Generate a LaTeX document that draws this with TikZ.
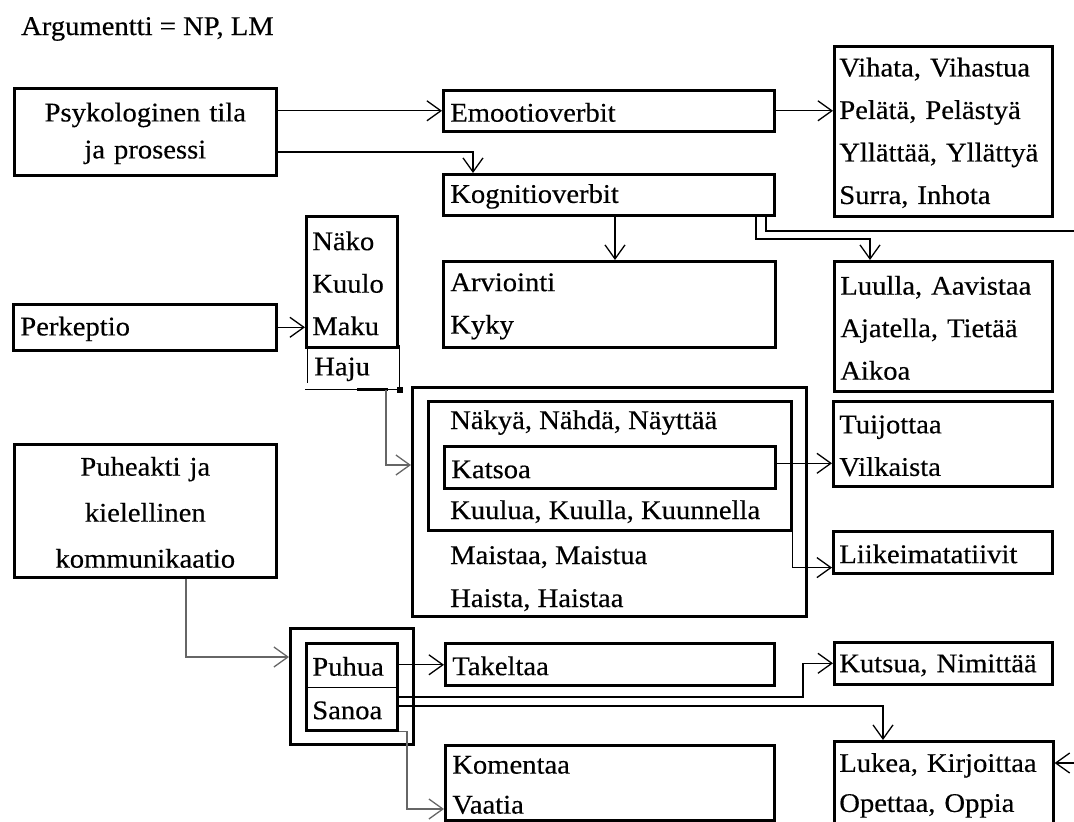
\documentclass[tikz,border=0pt]{standalone}
\usepackage{fontspec}
\setmainfont{Liberation Serif}[FakeStretch=1.06,FakeBold=0.4]
\usepackage{tikz}
\usetikzlibrary{arrows.meta,positioning}

\begin{document}
\begin{tikzpicture}[x=1pt,y=-1pt,
    font=\fontsize{27}{42.5}\selectfont,
    box/.style={draw,line width=2.6pt,anchor=north west,inner sep=0pt,
        align=left,text height=22pt},
    arr/.style={line width=1.3pt,-{Straight Barb[length=14pt,width=20pt]}},
    ln/.style={line width=1.3pt},
    gry/.style={draw=black!60}]
\useasboundingbox (0,0) rectangle (1074,822);
\clip (0,0) rectangle (1074,822);
\node[anchor=base west,inner sep=0pt] (arg) at (21,35) {Argumentti = NP, LM};
% Psykologinen tila
\node[box,align=center,font=\fontsize{27}{37}\selectfont,
    minimum width=262,minimum height=87,text width=250pt] (psy) at (13,87)
    {Psykologinen tila\\ja prosessi};
\node[box,minimum width=331,minimum height=41,text width=317pt] (emo) at (442,89) {Emootioverbit};
\node[box,minimum width=331,minimum height=41,text width=317pt] (kog) at (442,173) {Kognitioverbit};
\node[box,minimum width=218,minimum height=170,text width=208pt] (viha) at (833,45)
    {Vihata, Vihastua\\Pelätä, Pelästyä\\Yllättää, Yllättyä\\Surra, Inhota};
\node[box,minimum width=332,minimum height=86,text width=318pt] (arvio) at (442,260)
    {Arviointi\\Kyky};
\node[box,minimum width=218,minimum height=130,text width=206pt] (luulla) at (833,260)
    {Luulla, Aavistaa\\Ajatella, Tietää\\Aikoa};
% Perkeptio
\node[box,minimum width=263,minimum height=46,text width=249pt] (perk) at (12,303) {Perkeptio};
\node[box,minimum width=91,minimum height=131,text width=79pt] (nako) at (305,215)
    {Näko\\Kuulo\\Maku};
\node[box,draw=none,minimum width=90,minimum height=42,text width=78pt] (haju) at (307,345) {Haju};
\draw[line width=1pt] (haju.north west) ++(0,2) -- ++(0,36);
\draw[line width=1pt] (haju.north east) -- (haju.south east);
\draw[line width=1pt] ([xshift=-2pt]haju.south west) -- (haju.south east);
\draw[line width=2.5pt] ([xshift=50pt]haju.south west) -- ([xshift=-12pt]haju.south east);
\fill ([xshift=-3pt,yshift=-3pt]haju.south east) rectangle ++(6,-6);
\node[box,minimum width=394,minimum height=229] (perc) at (411,386) {};
\node[box,minimum width=363,minimum height=129] (percin) at (427,400) {};
\node[box,minimum width=331,minimum height=42,text width=317pt] (katsoa) at (443,445) {Katsoa};
\foreach \t/\y [count=\i] in {{Näkyä, Nähdä, Näyttää}/429,{Kuulua, Kuulla, Kuunnella}/519,
    {Maistaa, Maistua}/564,{Haista, Haistaa}/607}
    \node[anchor=base west,inner sep=0pt] (pl\i) at (450,\y) {\t};
\node[box,minimum width=219,minimum height=85,text width=207pt] (tuij) at (832,400)
    {Tuijottaa\\Vilkaista};
\node[box,minimum width=219,minimum height=42,text width=207pt] (liike) at (832,530) {Liikeimatatiivit};
% Puheakti
\node[box,align=center,font=\fontsize{27}{46}\selectfont,
    minimum width=262,minimum height=133,text width=250pt] (puhe) at (13,443)
    {Puheakti ja\\kielellinen\\kommunikaatio};
\node[box,minimum width=123,minimum height=116] (puhout) at (289,627) {};
\node[box,minimum width=91,minimum height=87] (puhin) at (305,642) {};
\node[box,draw=none,minimum width=91,minimum height=43,text width=79pt] (puhua) at (305,642) {Puhua};
\node[box,draw=none,minimum width=91,minimum height=44,text width=79pt] (sanoa) at (305,685) {Sanoa};
\draw[line width=1.5pt] (puhua.south west) -- (puhua.south east);
\node[box,minimum width=329,minimum height=42,text width=315pt] (takel) at (444,642) {Takeltaa};
\node[box,minimum width=218,minimum height=42,text width=208pt] (kutsu) at (833,641) {Kutsua, Nimittää};
\node[box,font=\fontsize{27}{40}\selectfont,minimum width=329,minimum height=75,
    text width=315pt] (koment) at (444,744) {Komentaa\\Vaatia};
\node[box,font=\fontsize{27}{40}\selectfont,minimum width=219,minimum height=85,
    text width=209pt] (lukea) at (833,740) {Lukea, Kirjoittaa\\Opettaa, Oppia};
% connectors
\coordinate (offr) at (1074,231);
\coordinate (offl) at (1074,763);
\draw[arr] (psy.east |- emo.west) -- (emo.west);
\draw[arr] (psy.east |- 0,152) -| (473,0 |- kog.north);
\draw[arr] (emo.east) -- (emo.east -| viha.west);
\draw[arr] (615,0 |- kog.south) -- (615,0 |- arvio.north);
\draw[arr] (756,0 |- kog.south) |- (870,239) -- (870,0 |- luulla.north);
\draw[ln] (766,0 |- kog.south) |- (offr);
\draw[arr] (perk.east) -- (perk.east -| nako.west);
\draw[arr,gry] (386,0 |- haju.south) |- (perc.west |- 0,465);
\draw[arr] ([yshift=4pt]katsoa.east) -- ([yshift=4pt]katsoa.east -| tuij.west);
\draw[arr] (percin.south east) |- ([yshift=7pt]liike.south west);
\draw[arr,gry] (186,0 |- puhe.south) |- (puhout.west |- 0,657);
\draw[arr] (puhua.east) -- (puhua.east -| takel.west);
\draw[arr] (sanoa.east |- 0,697) -| (803,0 |- kutsu.west) -- (kutsu.west);
\draw[arr] (sanoa.east |- 0,706) -| (883,0 |- lukea.north);
\draw[arr,gry] (sanoa.south east) -- (407,0 |- sanoa.south) -- (407,809) -- (koment.west |- 0,809);
\draw[arr] (offl) -- (offl -| lukea.east);
\end{tikzpicture}
\end{document}
